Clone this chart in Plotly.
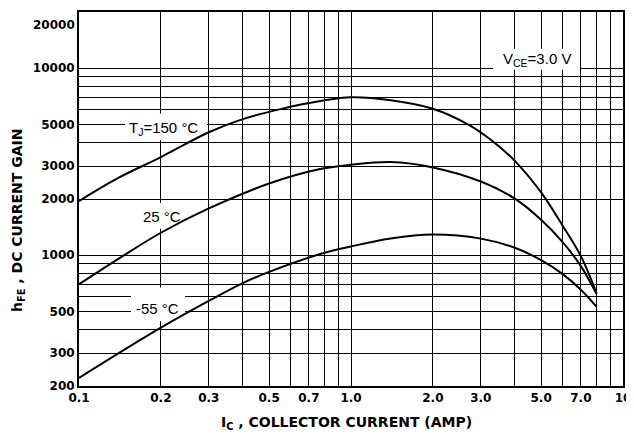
import plotly.graph_objects as go
import math

# ---- data ----
x_150 = [0.1, 0.14, 0.2, 0.3, 0.4, 0.55, 0.78, 1.0, 1.4, 2.0, 2.7, 3.3, 4.0, 5.0, 6.0, 7.0, 8.0]
y_150 = [1950, 2600, 3350, 4550, 5350, 6050, 6700, 7000, 6750, 6080, 5000, 4100, 3200, 2170, 1440, 990, 625]

x_25 = [0.1, 0.14, 0.2, 0.3, 0.5, 0.77, 1.0, 1.4, 2.0, 3.0, 4.0, 5.0, 6.0, 7.0, 8.0]
y_25 = [700, 960, 1320, 1780, 2420, 2890, 3050, 3150, 2950, 2480, 2010, 1550, 1175, 875, 620]

x_m55 = [0.1, 0.2, 0.3, 0.4, 0.5, 0.77, 1.0, 1.4, 2.0, 3.0, 4.0, 5.0, 6.0, 7.0, 8.0]
y_m55 = [221, 410, 570, 710, 815, 1015, 1115, 1230, 1290, 1228, 1097, 942, 793, 655, 530]

# labelled ticks and the extra (unlabelled) grid lines
x_ticks = [0.1, 0.2, 0.3, 0.5, 0.7, 1.0, 2.0, 3.0, 5.0, 7.0, 10.0]
x_tick_labels = ["0.1", "0.2", "0.3", "0.5", "0.7", "1.0", "2.0", "3.0", "5.0", "7.0", "10"]
x_minor = [0.4, 0.6, 0.8, 0.9, 4.0, 6.0, 8.0, 9.0]

y_ticks = [200, 300, 500, 1000, 2000, 3000, 5000, 10000]
y_tick_labels = ["200", "300", "500", "1000", "2000", "3000", "5000", "10000"]
y_top_label = "20000"
y_minor = [400, 600, 700, 800, 900, 4000, 6000, 7000, 8000, 9000]

FONT = "Liberation Sans, Arial, sans-serif"
TICKFONT = "DejaVu Sans, sans-serif"

X_RANGE = [math.log10(0.1), math.log10(10)]
Y_RANGE = [math.log10(200), math.log10(20000)]

# page has an 8px body margin; figure is sized so the plot area lands at page px 79..623 x 10..386
OFF = 8
PL, PR, PT, PB = 79, 623, 10, 386
W, H = 634 - OFF, 435 - OFF
L, T = PL - OFF, PT - OFF
R = W - (PR - OFF)
B = H - (PB - OFF)
pw, ph = PR - PL, PB - PT

def px(xp):
    return (xp - PL) / pw

def py(yp):
    return (PB - yp) / ph

def xval(xp):
    return 10 ** (X_RANGE[0] + px(xp) * (X_RANGE[1] - X_RANGE[0]))

def yval(yp):
    return 10 ** (Y_RANGE[0] + py(yp) * (Y_RANGE[1] - Y_RANGE[0]))

fig = go.Figure()

labels = [
    ("T<sub>J</sub>=150 °C", 163, 127, (125, 112, 207, 139)),
    ("25 °C", 162, 216, (140, 202, 185, 228)),
    ("-55 °C", 157, 308, (131, 287, 185, 321)),
    ("V<sub>CE</sub>=3.0 V", 537, 58, (493, 47, 580, 68)),
]

# white patches behind the labels: drawn as traces so they sit above the grid but below the curves
for text, cx, cy, (x0, y0, x1, y1) in labels:
    fig.add_trace(go.Scatter(x=[xval(x0), xval(x1), xval(x1), xval(x0), xval(x0)],
                             y=[yval(y0), yval(y0), yval(y1), yval(y1), yval(y0)],
                             mode="lines", fill="toself", fillcolor="white", line=dict(width=0, color="white"),
                             showlegend=False, hoverinfo="skip"))

for xs, ys in [(x_150, y_150), (x_25, y_25), (x_m55, y_m55)]:
    fig.add_trace(go.Scatter(x=xs, y=ys, mode="lines",
                             line=dict(color="black", width=2, shape="spline", smoothing=1.0),
                             showlegend=False, hoverinfo="skip"))

for text, cx, cy, box in labels:
    fig.add_annotation(text=text, x=px(cx), y=py(cy), xref="paper", yref="paper",
                       xanchor="center", yanchor="middle", showarrow=False,
                       font=dict(family=FONT, size=15, color="black"))

fig.add_annotation(text="<b>I<sub>C</sub> , COLLECTOR CURRENT (AMP)</b>", x=px(346), y=py(423),
                   xref="paper", yref="paper", xanchor="center", yanchor="middle", showarrow=False,
                   font=dict(family=TICKFONT, size=14, color="black"))
fig.add_annotation(text="<b>h<sub>FE</sub> , DC CURRENT GAIN</b>", x=px(18), y=py(220),
                   xref="paper", yref="paper", xanchor="center", yanchor="middle", showarrow=False,
                   textangle=-90, font=dict(family=TICKFONT, size=14, color="black"))
# top tick label sits below the frame in the reference
fig.add_annotation(text=f"<b>{y_top_label}</b>", x=0, y=py(23), xref="paper", yref="paper",
                   xanchor="right", yanchor="middle", xshift=-2, showarrow=False,
                   font=dict(family=TICKFONT, size=12, color="black"))

axis_common = dict(showgrid=True, gridcolor="black", gridwidth=1, showline=True, linecolor="black",
                   linewidth=2, mirror=True, zeroline=False, ticks="",
                   tickfont=dict(family=TICKFONT, size=12, color="black"))

fig.update_xaxes(type="log", range=X_RANGE, tickmode="array",
                 tickvals=x_ticks, ticktext=[f"<b>{t}</b>" for t in x_tick_labels],
                 minor=dict(tickmode="array", tickvals=x_minor, showgrid=True, gridcolor="black",
                            gridwidth=1, ticks=""),
                 **axis_common)
fig.update_yaxes(type="log", range=Y_RANGE, tickmode="array",
                 tickvals=y_ticks, ticktext=[f"<b>{t}</b>" for t in y_tick_labels],
                 minor=dict(tickmode="array", tickvals=y_minor, showgrid=True, gridcolor="black",
                            gridwidth=1, ticks=""),
                 **axis_common)

fig.update_layout(width=W, height=H, margin=dict(l=L, r=R, t=T, b=B),
                  plot_bgcolor="white", paper_bgcolor="white",
                  font=dict(family=FONT, color="black"))

fig.write_html("out.html")
